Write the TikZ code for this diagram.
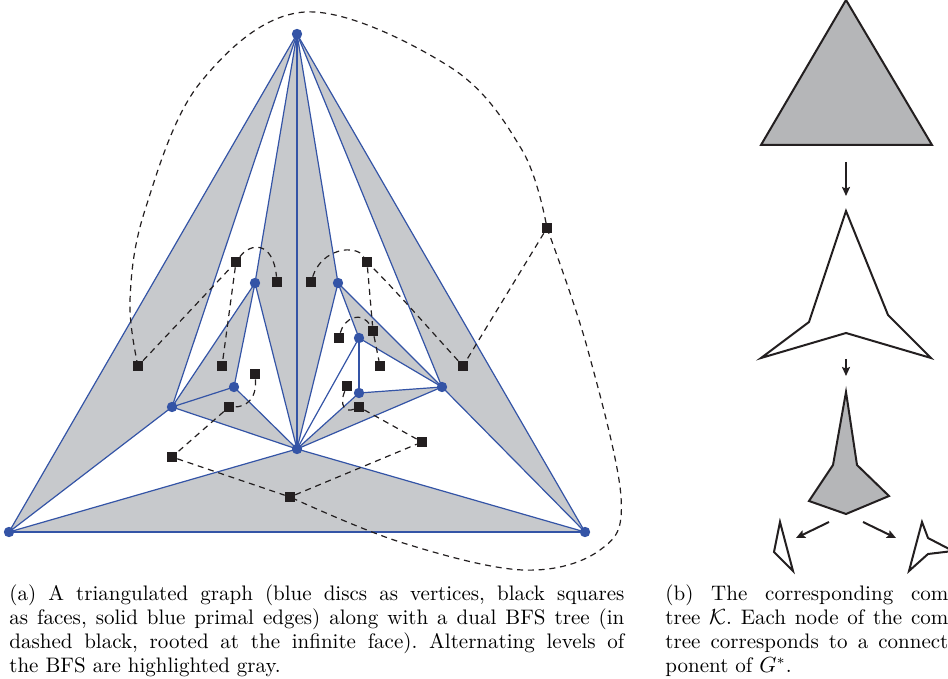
\documentclass[tikz,border=0pt]{standalone}
\usetikzlibrary{arrows.meta}
\definecolor{gblue}{RGB}{52,84,166}
\definecolor{lgray}{RGB}{199,201,204}
\definecolor{mgray}{RGB}{181,182,184}
\definecolor{ink}{RGB}{35,31,32}
\pgfdeclarelayer{fills}
\pgfdeclarelayer{edges}
\pgfdeclarelayer{duals}
\pgfsetlayers{fills,edges,duals,main}
\frenchspacing
\begin{document}
\begin{tikzpicture}[x=0.5pt,y=-0.5pt,
  vert/.style={circle,fill=gblue,inner sep=0pt,minimum size=5.2pt},
  face/.style={rectangle,fill=ink,inner sep=0pt,minimum size=4.9pt},
  primal/.style={gblue,line width=0.6pt},
  dual/.style={ink,line width=0.6pt,dash pattern=on 3pt off 2.4pt},
  comp/.style={draw=ink,line width=1pt,line join=miter},
  karrow/.style={ink,line width=1pt,-{Stealth[length=4.5pt,width=4pt,inset=0.8pt]}},
  captext/.style={font=\fontsize{10.5}{12}\selectfont,inner sep=0pt,anchor=north west}
]
\useasboundingbox (0,0) rectangle (948,679);

% vertices
\node[vert] (T) at (297,34) {};
\node[vert] (L) at (9,532) {};
\node[vert] (R) at (585,532) {};
\node[vert] (C) at (297,449) {};
\node[vert] (A) at (255,283) {};
\node[vert] (B) at (338,283) {};
\node[vert] (P) at (172,407) {};
\node[vert] (Q) at (234,387) {};
\node[vert] (D) at (359,338) {};
\node[vert] (E) at (359,393) {};
\node[vert] (F) at (442,387) {};

% faces
\node[face] (fO) at (547,228) {};
\node[face] (fTLP) at (138,366) {};
\node[face] (fTFR) at (463,366) {};
\node[face] (fLCR) at (290,497) {};
\node[face] (fTPA) at (236,262) {};
\node[face] (fTAC) at (277,282) {};
\node[face] (fTCB) at (311,282) {};
\node[face] (fTBF) at (367,262) {};
\node[face] (fPAQ) at (222,366) {};
\node[face] (fQAC) at (255,374) {};
\node[face] (fPQC) at (229,407) {};
\node[face] (fLPC) at (172,457) {};
\node[face] (fBCD) at (339,338) {};
\node[face] (fBDF) at (373,331) {};
\node[face] (fDFE) at (380,366) {};
\node[face] (fDEC) at (347,386) {};
\node[face] (fEFC) at (359,407) {};
\node[face] (fRFC) at (422,442) {};

\begin{pgfonlayer}{fills}
\foreach \a/\b/\c in {T/L/P,T/A/C,T/C/B,T/F/R,L/C/R,P/A/Q,P/Q/C,B/D/F,E/F/C}
  \fill[lgray] (\a.center) -- (\b.center) -- (\c.center) -- cycle;
\end{pgfonlayer}

\begin{pgfonlayer}{edges}
\foreach \a/\b in {T/L,T/R,L/R,L/C,R/C,T/P,T/A,T/C,T/B,T/F,L/P,P/C,P/A,P/Q,Q/A,Q/C,A/C,B/C,B/D,B/F,D/F,D/E,D/C,E/C,E/F,F/C,F/R}
  \draw[primal] (\a.center) -- (\b.center);
\end{pgfonlayer}

\begin{pgfonlayer}{duals}
\draw[dual] plot[smooth,tension=0.6] coordinates {(fTLP.center) (130,300) (145,210) (200,83) (305,12) (450,67) (522,150) (fO.center)};
\draw[dual] plot[smooth,tension=0.6] coordinates {(fO.center) (587,347) (621,497) (600,550) (523,570) (400,542) (fLCR.center)};
\draw[dual] (fO) -- (fTFR);
\draw[dual] (fTFR) .. controls (430,330) and (400,295) .. (fTBF);
\draw[dual] (fTLP) -- (fTPA);
\draw[dual] (fTPA) -- (fPAQ);
\draw[dual] (fPQC) -- (fLPC);
\draw[dual] (fLPC) -- (fLCR);
\draw[dual] (fLCR) -- (fRFC);
\draw[dual] (fRFC) -- (fEFC);
\draw[dual] (fTBF) -- (fBDF);
\draw[dual] (fBDF) -- (fDFE);
\draw[dual] (fTPA) .. controls (250,243) and (273,240) .. (fTAC);
\draw[dual] (fTCB) .. controls (322,248) and (356,244) .. (fTBF);
\draw[dual] (fBCD) .. controls (344,318) and (362,310) .. (fBDF);
\draw[dual] (fQAC) .. controls (257,400) and (245,407) .. (fPQC);
\draw[dual] (fDEC) .. controls (339,405) and (345,413) .. (fEFC);
\end{pgfonlayer}

\node[captext,text width=307.5pt,align=justify] (capa) at (9,584)
 {(a) A triangulated graph (blue discs as vertices, black squares\linebreak
  as faces, solid blue primal edges) along with a dual BFS tree (in\linebreak
  dashed black, rooted at the infinite face). Alternating levels of\linebreak
  the BFS are highlighted gray.};

\node[captext,text width=141.5pt,align=left] (capb) at (665,584)
 {\makebox[141.5pt][l]{(b)\hfill The\hfill corresponding\hfill com}\\
  \makebox[141.5pt][l]{tree\hfill $\mathcal{K}$.\hfill Each\hfill node\hfill of\hfill the\hfill com}\\
  \makebox[141.5pt][l]{tree\hfill corresponds\hfill to\hfill a\hfill connect}\\
  ponent of $G^*$.};

\begin{scope}
\clip (0,0) rectangle (948,679);
\filldraw[comp,fill=mgray] (761,145) -- (846,0) -- (932,145) -- cycle;
\coordinate (k1a) at (846,162);
\coordinate (k1b) at (846,196);
\draw[karrow] (k1a) -- (k1b);
\draw[comp] (846,211) -- (888,315) -- (931,358) -- (846,333) -- (761,358) -- (809,322) -- cycle;
\coordinate (k2a) at (846,359);
\coordinate (k2b) at (846,376);
\draw[karrow] (k2a) -- (k2b);
\filldraw[comp,fill=mgray] (846,392) -- (857,465) -- (889,496) -- (846,514) -- (809,501) -- (833,465) -- cycle;
\coordinate (k3a) at (829,522);
\coordinate (k3b) at (796,538);
\coordinate (k4a) at (863,522);
\coordinate (k4b) at (896,538);
\draw[karrow] (k3a) -- (k3b);
\draw[karrow] (k4a) -- (k4b);
\draw[comp] (780,522) -- (793,571) -- (774,552) -- cycle;
\draw[comp] (922,522) -- (928,538) -- (953,551) -- (928,554) -- (909,571) -- cycle;
\end{scope}
\end{tikzpicture}
\end{document}
